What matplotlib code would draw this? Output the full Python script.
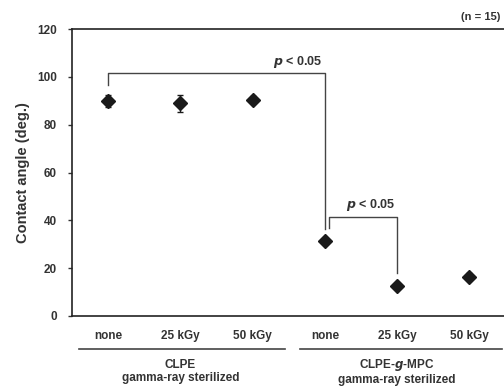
import matplotlib
matplotlib.use('Agg')
import matplotlib.pyplot as plt

# data
dose_labels = ['none', '25 kGy', '50 kGy', 'none', '25 kGy', '50 kGy']
contact_angle = [90.0, 89.0, 90.5, 31.5, 12.5, 16.5]
angle_err = [2.5, 3.5, 1.5, 1.0, 1.0, 1.5]
group_names = ['CLPE\ngamma-ray sterilized', 'CLPE-$g$-MPC\ngamma-ray sterilized']

plt.rcParams['font.family'] = ['Liberation Sans', 'DejaVu Sans']
plt.rcParams['font.weight'] = 'bold'
txt = '#333333'

fig = plt.figure(figsize=(5.04, 3.87), dpi=100)
ax = fig.add_axes([0.143, 0.1835, 0.86, 0.7415])

x = list(range(1, len(contact_angle) + 1))
ax.errorbar(x, contact_angle, yerr=angle_err, fmt='D', color='#1a1a1a',
            markersize=7, ecolor='#1a1a1a', elinewidth=1, capsize=2.5, capthick=1)

ax.set_xlim(0.5, 6.5)
ax.set_ylim(0, 120)
ax.set_yticks(range(0, 121, 20))
ax.set_xticks([])
ax.tick_params(axis='y', direction='out', length=3, width=1, labelsize=8.5,
               colors=txt, pad=8)
for lab in ax.get_yticklabels():
    lab.set_fontweight('bold')
ax.spines['right'].set_visible(False)
for s in ['left', 'top', 'bottom']:
    ax.spines[s].set_linewidth(1.2)
    ax.spines[s].set_color('#222222')
ax.set_ylabel('Contact angle (deg.)', fontsize=10.5, fontweight='bold', color=txt, labelpad=5)

# significance brackets
br = dict(color='#444444', lw=1)
ax.plot([1, 1, 4, 4], [96.5, 101.5, 101.5, 36.5], **br)
ax.text(3.97, 103, '$\\it{p}$ < 0.05', fontsize=9, ha='right', va='bottom', color=txt)
ax.plot([4.05, 4.05, 5, 5], [37, 41.5, 41.5, 18], **br)
ax.text(4.98, 43, '$\\it{p}$ < 0.05', fontsize=9, ha='right', va='bottom', color=txt)

ax.text(0.988, 1.025, '(n = 15)', transform=ax.transAxes, fontsize=8,
        ha='right', va='bottom', color=txt)

# category labels and group lines below the axis
tr = ax.get_xaxis_transform()
for xi, lab in zip(x, dose_labels):
    ax.text(xi, -0.07, lab, transform=tr, fontsize=8.5, ha='center', va='center', color=txt)
ax.plot([0.6, 3.45], [-0.115, -0.115], transform=tr, clip_on=False, color='#444444', lw=1.2)
ax.plot([3.65, 6.45], [-0.115, -0.115], transform=tr, clip_on=False, color='#444444', lw=1.2)
ax.text(2.0, -0.195, group_names[0], transform=tr, fontsize=8.5, ha='center', va='center',
        color=txt, linespacing=1.1)
ax.text(5.0, -0.195, group_names[1], transform=tr, fontsize=8.5, ha='center', va='center',
        color=txt, linespacing=1.1)

fig.savefig('out.png', dpi=100)
